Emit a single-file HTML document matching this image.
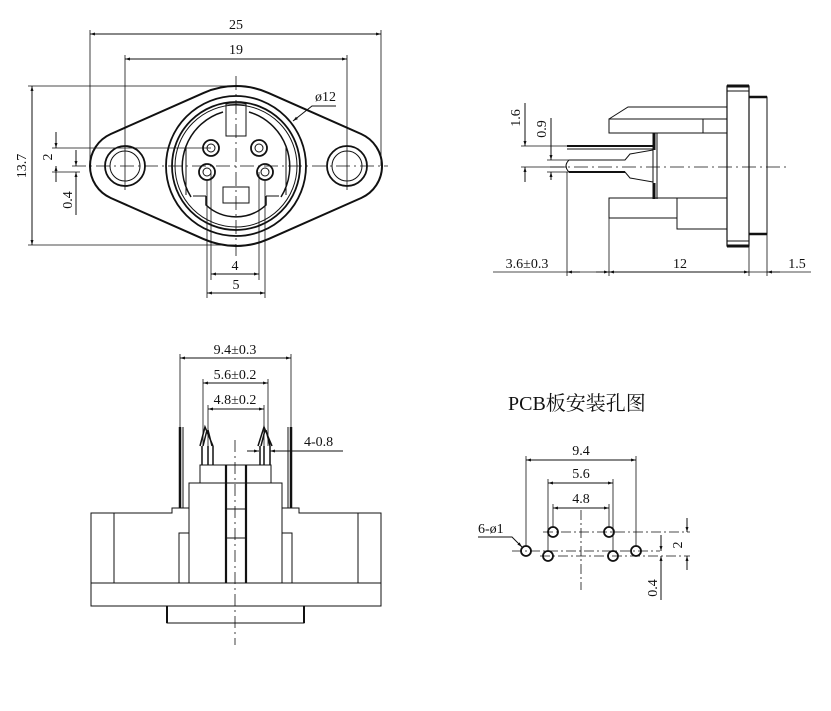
<!DOCTYPE html>
<html><head><meta charset="utf-8"><style>
html,body{margin:0;padding:0;background:#fff;}
svg{display:block;}
text{font-family:"Liberation Serif","Noto Serif CJK SC",serif;font-size:14px;fill:#111;}
</style></head><body>
<svg width="831" height="711" viewBox="0 0 831 711" xmlns="http://www.w3.org/2000/svg">
<defs>
<marker id="a" viewBox="0 0 10 10" refX="10" refY="5" markerWidth="7" markerHeight="5" orient="auto-start-reverse"><path d="M0,2 L10,5 L0,8z" fill="#111"/></marker>
</defs>
<g stroke="#111" fill="none" stroke-width="1">
<!-- FRONT VIEW -->
<path d="M268.4,92.9 A80,80 0 0 0 203.6,92.9 L110.8,134 A35,35 0 0 0 110.8,198 L203.6,239.1 A80,80 0 0 0 268.4,239.1 L361.2,198 A35,35 0 0 0 361.2,134 Z" stroke-width="2"/>
<circle cx="125" cy="166" r="20" stroke-width="1.8"/><circle cx="125" cy="166" r="15"/>
<circle cx="347" cy="166" r="20" stroke-width="1.8"/><circle cx="347" cy="166" r="15"/>
<circle cx="236" cy="166" r="70" stroke-width="1.8"/>
<circle cx="236" cy="166" r="64" stroke-width="1.8"/>
<circle cx="236" cy="166" r="61"/>
<path d="M223,112 A57,57 0 0 0 191,197" stroke-width="1.5"/>
<path d="M249,112 A57,57 0 0 1 281,197" stroke-width="1.5"/>
<path d="M186,146 L186,195 M286,146 L286,195"/>
<path d="M206,196 L206,205 A44,44 0 0 0 266,205 L266,196" stroke-width="1.5"/>
<path d="M193,196 L206,196 M266,196 L279,196"/>
<rect x="226" y="104" width="20" height="32"/>
<rect x="223" y="187" width="26" height="16"/>
<g stroke-width="1.8"><circle cx="211" cy="148" r="8"/><circle cx="259" cy="148" r="8"/><circle cx="207" cy="172" r="8"/><circle cx="265" cy="172" r="8"/></g>
<g><circle cx="211" cy="148" r="4"/><circle cx="259" cy="148" r="4"/><circle cx="207" cy="172" r="4"/><circle cx="265" cy="172" r="4"/></g>
<path d="M72,166 L388,166 M236,76 L236,256" stroke-dasharray="14,4,2,4" stroke-width="0.8"/>
<!-- dims -->
<path d="M90,30 L90,166 M381,30 L381,166 M125,55 L125,190 M347,55 L347,190" stroke-width="0.8"/>
<path d="M90,34 L381,34" marker-start="url(#a)" marker-end="url(#a)"/>
<path d="M125,59 L347,59" marker-start="url(#a)" marker-end="url(#a)"/>
<path d="M28,86 L236,86 M28,245 L236,245" stroke-width="0.8"/>
<path d="M32,86 L32,245" marker-start="url(#a)" marker-end="url(#a)"/>
<path d="M52,148 L211,148 M52,172 L80,172" stroke-width="0.8"/>
<path d="M56,132 L56,148" marker-end="url(#a)"/><path d="M56,166 L56,182" marker-start="url(#a)"/>
<path d="M76,150 L76,166" marker-end="url(#a)"/><path d="M76,172 L76,215" marker-start="url(#a)"/>
<path d="M211,172 L211,280 M259,172 L259,280 M207,180 L207,298 M265,180 L265,298" stroke-width="0.8"/>
<path d="M211,274 L259,274" marker-start="url(#a)" marker-end="url(#a)"/>
<path d="M207,293 L265,293" marker-start="url(#a)" marker-end="url(#a)"/>
<path d="M293,121 L312,106 L336,106" marker-start="url(#a)"/>

<!-- SIDE VIEW -->
<rect x="727" y="86" width="22" height="160" stroke-width="1.2"/>
<path d="M727,86 L749,86 M727,246 L749,246" stroke-width="3"/>
<path d="M727,91 L749,91 M727,241 L749,241"/>
<rect x="749" y="97" width="18" height="137"/>
<path d="M749,97 L767,97 M749,234 L767,234" stroke-width="2.5"/>
<path d="M609,119 L628,107 L727,107 M609,119 L727,119 L727,133 L609,133 Z M703,119 L703,133"/>
<path d="M653,133 L657,133 L657,199 M653,133 L653,199"/>
<path d="M654,133 L654,150 M654,183 L654,199" stroke-width="3"/>
<rect x="609" y="198" width="68" height="20"/>
<path d="M677,198 L727,198 L727,229 L677,229 L677,218"/>
<path d="M567,149 L653,149"/>
<path d="M567,146 L653,146" stroke-width="2"/>
<path d="M569,160 L625,160 L630,154 L653,150 M569,172 L625,172 L630,178 L653,182" />
<path d="M569,172 L625,172" stroke-width="2"/>
<path d="M569,160 Q563,166 569,172"/>
<path d="M550,167 L790,167" stroke-dasharray="14,4,2,4" stroke-width="0.8"/>
<path d="M567,172 L567,276 M609,218 L609,276 M767,234 L767,276 M749,246 L749,276" stroke-width="0.8"/>
<path d="M493,272 L811,272" stroke-width="0.8"/>
<path d="M567,272 L580,272" marker-start="url(#a)"/><path d="M596,272 L609,272" marker-end="url(#a)"/>
<path d="M609,272 L749,272" marker-start="url(#a)" marker-end="url(#a)"/>
<path d="M767,272 L780,272" marker-start="url(#a)"/>
<path d="M521,146 L567,146 M521,167 L567,167 M547,160 L569,160 M547,172 L569,172" stroke-width="0.8"/>
<path d="M525,103 L525,146" marker-end="url(#a)"/><path d="M525,167 L525,182" marker-start="url(#a)"/>
<path d="M551,118 L551,160" marker-end="url(#a)"/><path d="M551,172 L551,180" marker-start="url(#a)"/>

<!-- BOTTOM VIEW -->
<path d="M189,508 L172,508 L172,513 L91,513 L91,583 L381,583 L381,513 L299,513 L299,508 L282,508"/>
<rect x="91" y="583" width="290" height="23"/>
<path d="M167,606 L167,623 L304,623 L304,606"/>
<path d="M167,606 L167,623 M304,606 L304,623" stroke-width="2"/>
<path d="M114,513 L114,583 M358,513 L358,583"/>
<rect x="189" y="483" width="93" height="100"/>
<rect x="200" y="465" width="71" height="18"/>
<rect x="179" y="533" width="10" height="50"/><rect x="282" y="533" width="10" height="50"/>
<path d="M226,465 L226,583 M246,465 L246,583" stroke-width="2.2"/>
<path d="M226,483 L246,483 M226,509 L246,509 M226,538 L246,538"/>
<path d="M235,440 L235,645" stroke-dasharray="12,4,2,4" stroke-width="0.8"/>
<path d="M180,427 L180,508 M291,427 L291,508" stroke-width="2.5"/>
<path d="M183,427 L183,508 M288,427 L288,508"/>
<path d="M200,446 L205,427 L213,446 M203,446 L207,430 M212,446 L208,430 M202,446 L202,465 M208,446 L208,465 M213,446 L213,465" stroke-width="1.5"/>
<path d="M258,446 L264,427 L272,446 M261,446 L265,430 M270,446 L266,430 M260,446 L260,465 M264,446 L264,465 M270,446 L270,465" stroke-width="1.5"/>
<path d="M180,354 L180,427 M291,354 L291,427 M203,379 L203,446 M268,379 L268,446 M208,405 L208,446 M264,405 L264,446" stroke-width="0.8"/>
<path d="M180,358 L291,358" marker-start="url(#a)" marker-end="url(#a)"/>
<path d="M203,383 L268,383" marker-start="url(#a)" marker-end="url(#a)"/>
<path d="M208,409 L264,409" marker-start="url(#a)" marker-end="url(#a)"/>
<path d="M247,451 L259,451" marker-end="url(#a)"/><path d="M270,451 L343,451" marker-start="url(#a)"/>

<!-- PCB -->
<g stroke-width="1.8">
<circle cx="553" cy="532" r="5"/><circle cx="609" cy="532" r="5"/>
<circle cx="548" cy="556" r="5"/><circle cx="613" cy="556" r="5"/>
<circle cx="526" cy="551" r="5"/><circle cx="636" cy="551" r="5"/>
</g>
<path d="M543,532 L690,532 M512,551 L660,551 M540,556 L690,556 M581,510 L581,590" stroke-dasharray="10,3,2,3" stroke-width="0.8"/>
<path d="M526,456 L526,546 M636,456 L636,546 M548,479 L548,551 M613,479 L613,551 M553,504 L553,527 M609,504 L609,527" stroke-width="0.8"/>
<path d="M526,460 L636,460" marker-start="url(#a)" marker-end="url(#a)"/>
<path d="M548,483 L613,483" marker-start="url(#a)" marker-end="url(#a)"/>
<path d="M553,508 L609,508" marker-start="url(#a)" marker-end="url(#a)"/>
<path d="M478,537 L512,537 L522,547" marker-end="url(#a)"/>
<path d="M687,518 L687,532" marker-end="url(#a)"/><path d="M687,556 L687,570" marker-start="url(#a)"/>
<path d="M661,535 L661,551" marker-end="url(#a)"/><path d="M661,556 L661,600" marker-start="url(#a)"/>
</g>
<g>
<text x="236" y="29" text-anchor="middle">25</text>
<text x="236" y="54" text-anchor="middle">19</text>
<text x="315" y="101">ø12</text>
<text x="235" y="270" text-anchor="middle">4</text>
<text x="236" y="289" text-anchor="middle">5</text>
<text transform="translate(26,166) rotate(-90)" text-anchor="middle">13.7</text>
<text transform="translate(52,157) rotate(-90)" text-anchor="middle">2</text>
<text transform="translate(72,200) rotate(-90)" text-anchor="middle">0.4</text>
<text x="527" y="268" text-anchor="middle">3.6±0.3</text>
<text x="680" y="268" text-anchor="middle">12</text>
<text x="797" y="268" text-anchor="middle">1.5</text>
<text transform="translate(520,118) rotate(-90)" text-anchor="middle">1.6</text>
<text transform="translate(546,129) rotate(-90)" text-anchor="middle">0.9</text>
<text x="235" y="354" text-anchor="middle">9.4±0.3</text>
<text x="235" y="379" text-anchor="middle">5.6±0.2</text>
<text x="235" y="404" text-anchor="middle">4.8±0.2</text>
<text x="304" y="446">4-0.8</text>
<text x="508" y="410" style="font-size:20px">PCB板安装孔图</text>
<text x="581" y="455" text-anchor="middle">9.4</text>
<text x="581" y="478" text-anchor="middle">5.6</text>
<text x="581" y="503" text-anchor="middle">4.8</text>
<text x="478" y="533">6-ø1</text>
<text transform="translate(682,545) rotate(-90)" text-anchor="middle">2</text>
<text transform="translate(657,588) rotate(-90)" text-anchor="middle">0.4</text>
</g>
</svg>
</body></html>
